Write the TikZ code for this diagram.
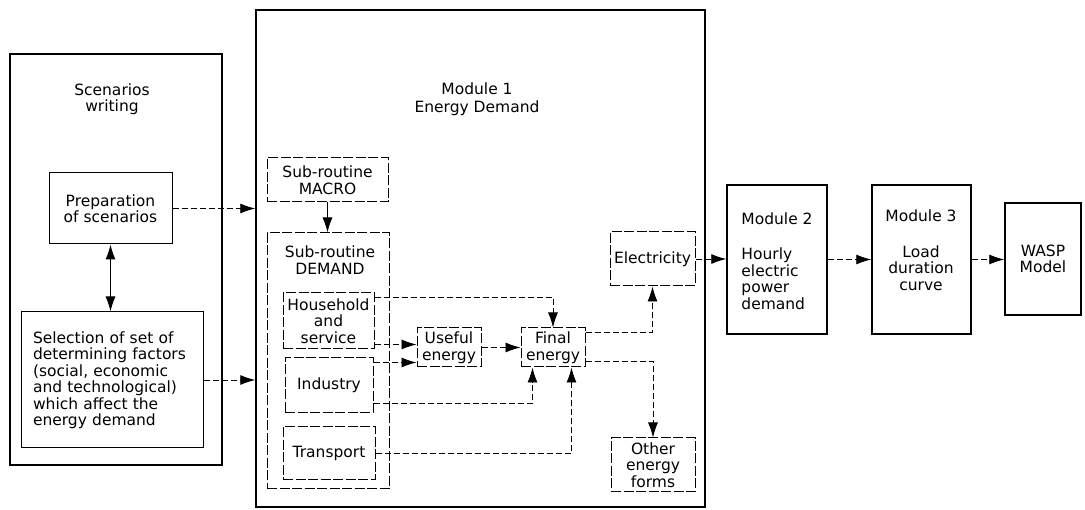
\documentclass[tikz,border=0pt]{standalone}
\usepackage{fontspec}
\setmainfont{DejaVu Sans}
\usetikzlibrary{arrows.meta,calc}

\begin{document}
\begin{tikzpicture}[x=1pt,y=-1pt,
    >={Latex[length=15pt,width=10pt]},
    font=\fontsize{15.5}{16.5}\selectfont,
    frame/.style={draw, line width=1.5pt, inner sep=0pt},
    box/.style={draw, line width=1pt, inner sep=0pt, align=center},
    dbox/.style={box, dash pattern=on 10pt off 2.5pt},
    txt/.style={inner sep=0pt, align=center},
    flow/.style={line width=0.9pt, dash pattern=on 6pt off 3pt}]
  \useasboundingbox (0,0) rectangle (1085,510);
  \node[frame, minimum width=212pt, minimum height=411pt] (SW) at (116,259.5) {};
  \node[txt] (SWt) at (112,99) {Scenarios\\writing};
  \node[box, minimum width=123pt, minimum height=71pt] (PS) at (110.5,208.5)
    {Preparation\\of scenarios};
  \node[box, minimum width=182pt, minimum height=136pt, text width=158pt,
    align=left] (SEL) at (112,380)
    {Selection of set of\\determining factors\\(social, economic\\and technological)\\which affect the\\energy demand};
  \node[frame, minimum width=449pt, minimum height=497pt] (M1) at (480.5,258.5) {};
  \node[txt] (M1t) at (477,99) {Module 1\\[2pt]Energy Demand};
  \node[dbox, minimum width=121pt, minimum height=44pt] (MAC) at (327.5,180)
    {Sub-routine\\MACRO};
  \node[dbox, minimum width=122pt, minimum height=256pt] (DEM) at (328,361) {};
  \node[txt] (DEMt) at (330,260) {Sub-routine\\DEMAND};
  \node[dbox, minimum width=91pt, minimum height=56pt] (HS) at (328.5,321)
    {Household\\and\\service};
  \node[dbox, minimum width=88pt, minimum height=55pt] (IND) at (329,385.5) {Industry};
  \node[dbox, minimum width=92pt, minimum height=53pt] (TR) at (329,453.5) {Transport};
  \node[dbox, minimum width=64pt, minimum height=39pt] (UE) at (449,347.5) {Useful\\energy};
  \node[dbox, minimum width=64pt, minimum height=39pt] (FE) at (553,347.5) {Final\\energy};
  \node[dbox, minimum width=85pt, minimum height=54pt] (EL) at (652.5,259) {Electricity};
  \node[dbox, minimum width=84pt, minimum height=54pt] (OEF) at (653,465)
    {Other\\energy\\forms};
  \node[frame, minimum width=100pt, minimum height=149pt] (M2) at (777,259.5) {};
  \node[txt, align=left] (M2t) at (777,261)
    {Module 2\\[19pt]Hourly\\electric\\power\\demand};
  \node[frame, minimum width=99pt, minimum height=149pt] (M3) at (921.5,259.5) {};
  \node[txt] (M3t) at (921,250) {Module 3\\[19pt]Load\\duration\\curve};
  \node[frame, align=center, minimum width=76pt, minimum height=112pt] (WASP)
    at (1043,259) {WASP\\Model};
  \draw[->, flow] (PS.east) -- (PS.east -| M1.west);
  \draw[->, flow] (SEL.east) -- (SEL.east -| M1.west);
  \draw[<->, line width=1pt] (PS.south) -- (PS.south |- SEL.north);
  \draw[->, line width=1pt] (MAC.south) -- (MAC.south |- DEM.north);
  \draw[->, flow] ($(HS.north east)+(0,5)$) -| (FE.north);
  \draw[->, flow] ($(HS.south east)+(0,-5)$) coordinate (h2) -- (h2 -| UE.west);
  \draw[->, flow] ($(IND.north east)+(0,5)$) coordinate (i1) -- (i1 -| UE.west);
  \draw[->, flow] (UE) -- (FE);
  \draw[->, flow] ($(IND.south east)+(0,-10)$) -| ($(FE.south west)+(12,0)$);
  \draw[->, flow] (TR.east) -| ($(FE.south east)+(-14,0)$);
  \draw[->, flow] ($(FE.north east)+(0,5)$) -| (EL.south);
  \draw[->, flow] ($(FE.south east)+(0,-6)$) -| (OEF.north);
  \draw[->, flow] (EL.east) -- (EL.east -| M2.west);
  \draw[->, flow] (M2) -- (M3);
  \draw[->, flow] (M3.east) -- (M3.east -| WASP.west);
\end{tikzpicture}
\end{document}
